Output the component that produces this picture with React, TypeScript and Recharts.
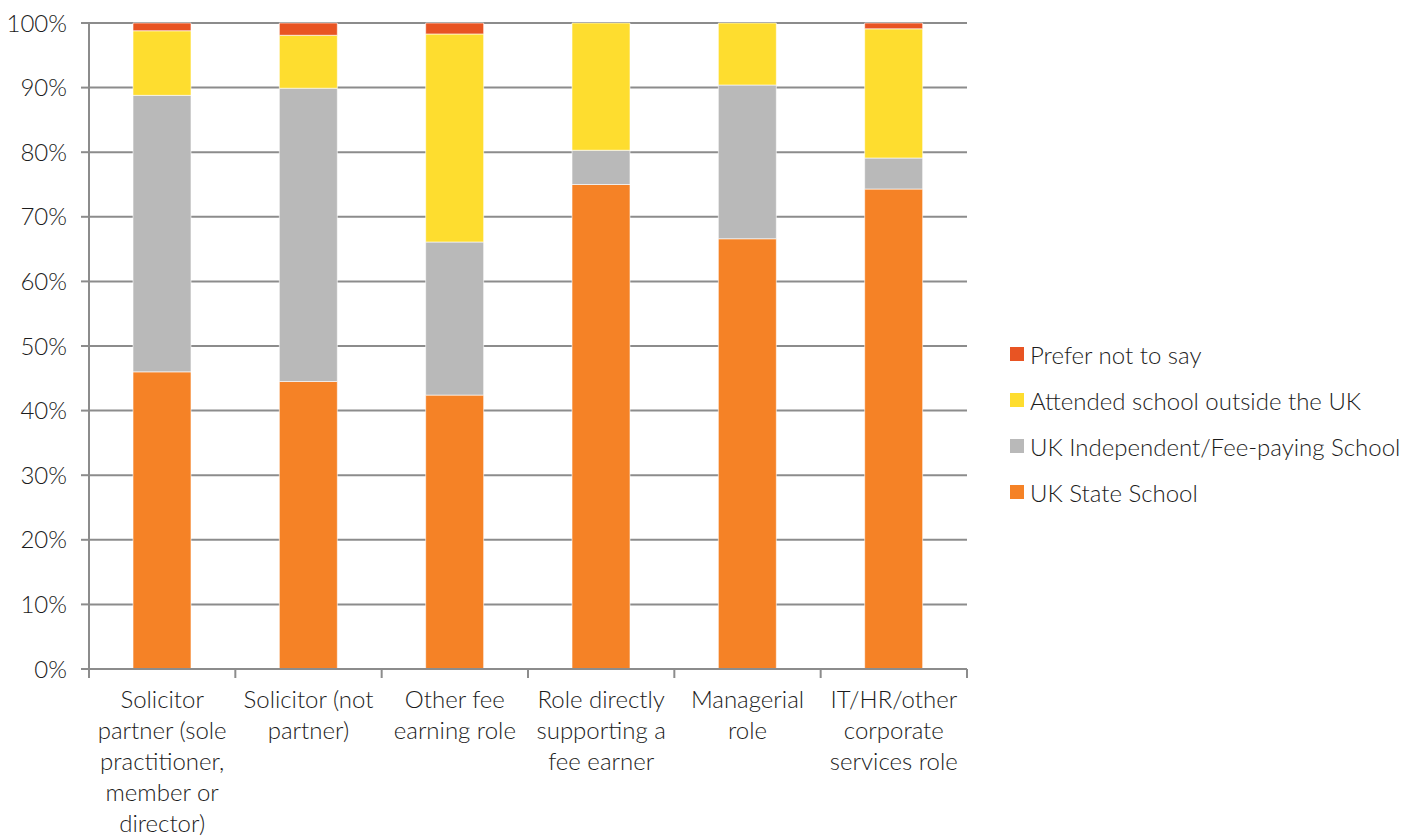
import React from 'react';
import { BarChart, Bar, XAxis, YAxis, CartesianGrid, Legend } from 'recharts';

const categories = [
  'Solicitor\npartner (sole\npractitioner,\nmember or\ndirector)',
  'Solicitor (not\npartner)',
  'Other fee\nearning role',
  'Role directly\nsupporting a\nfee earner',
  'Managerial\nrole',
  'IT/HR/other\ncorporate\nservices role',
];

const stateSchool = [46.0, 44.5, 42.4, 75.0, 66.6, 74.3];
const independentSchool = [42.8, 45.4, 23.7, 5.3, 23.8, 4.8];
const outsideUK = [10.0, 8.2, 32.2, 19.7, 9.6, 20.0];
const preferNotToSay = [1.2, 1.9, 1.7, 0, 0, 0.9];

const yTicks = [0, 10, 20, 30, 40, 50, 60, 70, 80, 90, 100];

const series = [
  { key: 'state', name: 'UK State School', color: '#F58226' },
  { key: 'independent', name: 'UK Independent/Fee-paying School', color: '#B9B9B9' },
  { key: 'outside', name: 'Attended school outside the UK', color: '#FEDD2F' },
  { key: 'prefer', name: 'Prefer not to say', color: '#E85423' },
];

const data = categories.map((c, i) => ({
  category: c,
  state: stateSchool[i],
  independent: independentSchool[i],
  outside: outsideUK[i],
  prefer: preferNotToSay[i],
}));

const FONT = 'Lato, "Noto Sans", sans-serif';
const TEXT = '#1c1c1c';
const AXIS = '#8c8c8c';
const BAND = 878 / categories.length;

// Excel style: ticks sit between categories, labels wrap over lines
const CategoryTick = (props: any) => {
  const { x, y, payload, index } = props;
  const lines = String(payload.value).split('\n');
  return (
    <g>
      <line x1={x - BAND / 2} x2={x - BAND / 2} y1={y - 8} y2={y + 1} stroke={AXIS} strokeWidth={2} />
      {index === categories.length - 1 && (
        <line x1={x + BAND / 2} x2={x + BAND / 2} y1={y - 8} y2={y + 1} stroke={AXIS} strokeWidth={2} />
      )}
      <text x={x} y={y + 31} textAnchor="middle" fill={TEXT} fontSize={24} fontFamily={FONT} fontWeight={300}>
        {lines.map((l, i) => (
          <tspan key={i} x={x} dy={i === 0 ? 0 : 31}>{l}</tspan>
        ))}
      </text>
    </g>
  );
};

const LegendContent = () => (
  <div style={{ fontFamily: FONT, fontWeight: 300, fontSize: 24, color: TEXT }}>
    {[...series].reverse().map((s) => (
      <div key={s.key} style={{ display: 'flex', alignItems: 'center', height: 46 }}>
        <span style={{ width: 14, height: 14, background: s.color, marginRight: 6, display: 'inline-block' }} />
        <span style={{ whiteSpace: 'nowrap' }}>{s.name}</span>
      </div>
    ))}
  </div>
);

export default function App() {
  return (
    <BarChart
      width={1410}
      height={828}
      data={data}
      margin={{ top: 15, right: 451, left: 0, bottom: 0 }}
      barCategoryGap={0}
    >
      <CartesianGrid vertical={false} stroke={AXIS} strokeWidth={2} />
      <XAxis
        dataKey="category"
        interval={0}
        height={167}
        stroke={AXIS}
        strokeWidth={2}
        tickLine={false}
        tick={<CategoryTick />}
      />
      <YAxis
        width={81}
        domain={[0, 100]}
        ticks={yTicks}
        tickFormatter={(v: number) => `${v}%`}
        stroke={AXIS}
        strokeWidth={2}
        tickSize={8}
        tickMargin={14}
        tick={{ fill: TEXT, fontSize: 24, fontFamily: FONT, fontWeight: 300 }}
        tickLine={{ stroke: AXIS, strokeWidth: 2 }}
      />
      <Legend
        layout="vertical"
        align="center"
        verticalAlign="middle"
        wrapperStyle={{ left: 1002, top: 323, width: 410 }}
        content={<LegendContent />}
      />
      {series.map((s) => (
        <Bar
          key={s.key}
          dataKey={s.key}
          name={s.name}
          stackId="a"
          fill={s.color}
          barSize={58}
          stroke="#ffffff"
          strokeOpacity={0.6}
          strokeWidth={1}
          isAnimationActive={false}
        />
      ))}
    </BarChart>
  );
}
